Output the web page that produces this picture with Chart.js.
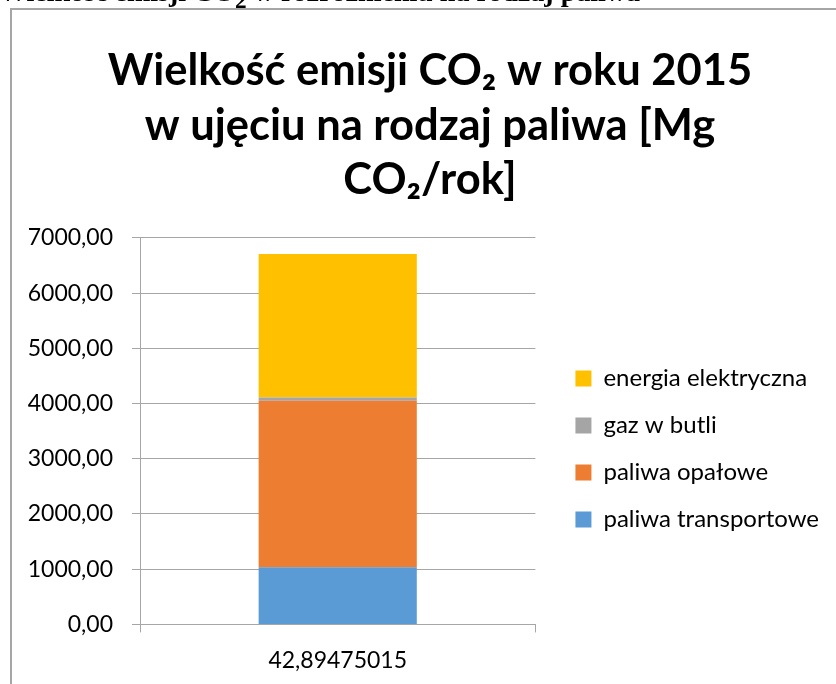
<!DOCTYPE html>
<html>
<head>
<meta charset="utf-8">
<script src="https://cdn.jsdelivr.net/npm/chart.js@4"></script>
<style>
  html, body { margin: 0; padding: 0; background: #fff; overflow: hidden; }
  body { width: 836px; height: 684px; position: relative; }
  .caption {
    position: absolute; right: 196px; top: -24px; white-space: nowrap;
    font: bold 28px "Liberation Serif", "DejaVu Serif", serif; color: #000; z-index: 2;
  }
  .frame {
    position: absolute; left: 10px; top: 8px; width: 900px; height: 700px;
    border-left: 2px solid #a6a6a6; border-top: 2px solid #a6a6a6;
  }
  #chart { position: absolute; left: 0; top: 0; }
</style>
</head>
<body>
<div class="caption">Wielkość emisji CO<sub>2</sub> w rozróżnieniu na rodzaj paliwa</div>
<div class="frame">
  <canvas id="chart" width="826" height="678"></canvas>
</div>
<script>
// category on the x axis
const categories = ["42,89475015"];

// series, bottom to top of the stack
const seriesNames = ["paliwa transportowe", "paliwa opałowe", "gaz w butli", "energia elektryczna"];
const transportValues = [1035];
const heatingValues = [3015];
const gasValues = [60];
const electricValues = [2600];
const seriesColors = ["#5B9BD5", "#ED7D31", "#A5A5A5", "#FFC000"];

const titleLines = ["Wielkość emisji CO₂ w roku 2015", "w ujęciu na rodzaj paliwa [Mg", "CO₂/rok]"];

const seriesValues = [transportValues, heatingValues, gasValues, electricValues];
const axisGray = "#a6a6a6";
const baseFont = "Lato, 'Open Sans', sans-serif";

// nudge legend and title into the Excel positions
const legendShift = { dx: 17, dy: 100 };
const titleShift = 18;
const nudgeBoxes = {
  id: "nudgeBoxes",
  afterLayout(chart) {
    chart.legend.left += legendShift.dx;
    chart.legend.right += legendShift.dx;
    chart.legend.top += legendShift.dy;
    chart.legend.bottom += legendShift.dy;
    chart.titleBlock.left += titleShift;
    chart.titleBlock.right += titleShift;
  },
};

const ctx = document.getElementById("chart").getContext("2d");
new Chart(ctx, {
  type: "bar",
  data: {
    labels: categories,
    datasets: seriesNames.map((name, i) => ({
      label: name,
      data: seriesValues[i],
      backgroundColor: seriesColors[i],
      borderWidth: 0,
      barPercentage: 0.4,
      categoryPercentage: 1,
    })),
  },
  options: {
    responsive: false,
    animation: false,
    layout: { padding: { right: 26 } },
    plugins: {
      title: {
        display: true,
        text: titleLines,
        color: "#000",
        font: { family: baseFont, size: 43.5, weight: "bold", lineHeight: 1.264 },
        padding: { top: 33, bottom: 30 },
      },
      legend: {
        position: "right",
        reverse: true,
        maxWidth: 320,
        labels: {
          color: "#000",
          boxWidth: 16,
          boxHeight: 16,
          padding: 23,
          font: { family: baseFont, size: 24 },
        },
      },
      tooltip: { enabled: false },
    },
    scales: {
      x: {
        stacked: true,
        grid: { offset: true, drawOnChartArea: false, tickLength: 8, color: axisGray },
        border: { color: axisGray },
        ticks: { color: "#000", padding: 14, font: { family: baseFont, size: 23 } },
      },
      y: {
        stacked: true,
        min: 0,
        max: 7000,
        afterFit: (scale) => { scale.width = 128; },
        grid: { tickLength: 8, color: axisGray },
        border: { color: axisGray },
        ticks: {
          stepSize: 1000,
          color: "#000",
          padding: 19,
          font: { family: baseFont, size: 23 },
          callback: (v) => v.toFixed(2).replace(".", ","),
        },
      },
    },
  },
  plugins: [nudgeBoxes],
});
</script>
</body>
</html>
